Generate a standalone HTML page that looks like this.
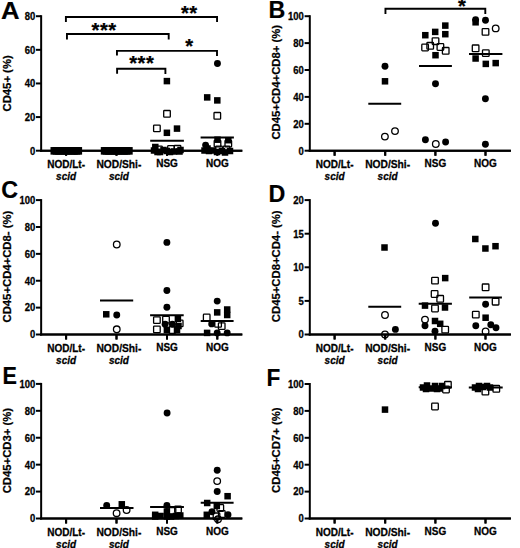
<!DOCTYPE html>
<html><head><meta charset="utf-8"><style>
html,body{margin:0;padding:0;background:#fff;}
svg{display:block;font-family:"Liberation Sans",sans-serif;}
</style></head><body>
<svg width="520" height="548" viewBox="0 0 520 548">
<rect width="520" height="548" fill="#fff"/>
<text transform="translate(1.0,19.4) scale(1.07,1)" font-size="24" text-anchor="start" font-weight="bold" font-style="normal" stroke="#000" stroke-width="0.2">A</text>
<line x1="41.15" y1="15.2" x2="41.15" y2="151.7" stroke="#000" stroke-width="2.0"/>
<line x1="35.949999999999996" y1="150.7" x2="41.15" y2="150.7" stroke="#000" stroke-width="2.0"/>
<text transform="translate(35.25,154.55) scale(0.95,1)" font-size="10.0" text-anchor="end" font-weight="bold" font-style="normal" stroke="#000" stroke-width="0.28">0</text>
<line x1="35.949999999999996" y1="117.07499999999999" x2="41.15" y2="117.07499999999999" stroke="#000" stroke-width="2.0"/>
<text transform="translate(35.25,120.92) scale(0.95,1)" font-size="10.0" text-anchor="end" font-weight="bold" font-style="normal" stroke="#000" stroke-width="0.28">20</text>
<line x1="35.949999999999996" y1="83.44999999999999" x2="41.15" y2="83.44999999999999" stroke="#000" stroke-width="2.0"/>
<text transform="translate(35.25,87.3) scale(0.95,1)" font-size="10.0" text-anchor="end" font-weight="bold" font-style="normal" stroke="#000" stroke-width="0.28">40</text>
<line x1="35.949999999999996" y1="49.82499999999999" x2="41.15" y2="49.82499999999999" stroke="#000" stroke-width="2.0"/>
<text transform="translate(35.25,53.67) scale(0.95,1)" font-size="10.0" text-anchor="end" font-weight="bold" font-style="normal" stroke="#000" stroke-width="0.28">60</text>
<line x1="35.949999999999996" y1="16.19999999999999" x2="41.15" y2="16.19999999999999" stroke="#000" stroke-width="2.0"/>
<text transform="translate(35.25,20.05) scale(0.95,1)" font-size="10.0" text-anchor="end" font-weight="bold" font-style="normal" stroke="#000" stroke-width="0.28">80</text>
<line x1="40.15" y1="150.7" x2="242.3" y2="150.7" stroke="#000" stroke-width="2.0"/>
<line x1="66.1" y1="150.7" x2="66.1" y2="155.7" stroke="#000" stroke-width="2.0"/>
<line x1="116.5" y1="150.7" x2="116.5" y2="155.7" stroke="#000" stroke-width="2.0"/>
<line x1="167.0" y1="150.7" x2="167.0" y2="155.7" stroke="#000" stroke-width="2.0"/>
<line x1="217.3" y1="150.7" x2="217.3" y2="155.7" stroke="#000" stroke-width="2.0"/>
<text x="66.1" y="168.0" font-size="10" text-anchor="middle" font-weight="bold" font-style="normal" stroke="#000" stroke-width="0.26">NOD/Lt-</text>
<text x="66.1" y="180.0" font-size="10" text-anchor="middle" font-weight="bold" font-style="italic" stroke="#000" stroke-width="0.26">scid</text>
<text transform="translate(118.9,168.0) scale(1.025,1)" font-size="10" text-anchor="middle" font-weight="bold" stroke="#000" stroke-width="0.26">NOD/Shi-</text>
<text x="118.9" y="180.0" font-size="10" text-anchor="middle" font-weight="bold" font-style="italic" stroke="#000" stroke-width="0.26">scid</text>
<text x="167.0" y="166.8" font-size="10" text-anchor="middle" font-weight="bold" font-style="normal" stroke="#000" stroke-width="0.26">NSG</text>
<text x="217.3" y="166.8" font-size="10" text-anchor="middle" font-weight="bold" font-style="normal" stroke="#000" stroke-width="0.26">NOG</text>
<text x="0" y="0" font-size="11.3" font-weight="bold" text-anchor="middle" stroke="#000" stroke-width="0.25" transform="translate(11.3,83.4) rotate(-90)">CD45+ (%)</text>
<polyline points="65.9,22.1 65.9,17.0 217.05,17.0 217.05,22.1" fill="none" stroke="#000" stroke-width="1.9" stroke-linejoin="miter" stroke-linecap="butt"/>
<polyline points="66.95,39.4 66.95,33.95 168.7,33.95 168.7,39.4" fill="none" stroke="#000" stroke-width="1.9" stroke-linejoin="miter" stroke-linecap="butt"/>
<polyline points="116.95,55.6 116.95,50.85 217.0,50.85 217.0,55.9" fill="none" stroke="#000" stroke-width="1.9" stroke-linejoin="miter" stroke-linecap="butt"/>
<polyline points="117.1,73.8 117.1,68.8 165.4,68.8 165.4,74.0" fill="none" stroke="#000" stroke-width="1.9" stroke-linejoin="miter" stroke-linecap="butt"/>
<text x="104.15" y="37.1" font-size="20.2" text-anchor="middle" font-weight="bold" letter-spacing="0.5" stroke="#000" stroke-width="0.25">***</text>
<text x="189.25" y="20.2" font-size="20.2" text-anchor="middle" font-weight="bold" letter-spacing="0.5" stroke="#000" stroke-width="0.25">**</text>
<text x="141.75" y="70.3" font-size="20.2" text-anchor="middle" font-weight="bold" letter-spacing="0.5" stroke="#000" stroke-width="0.25">***</text>
<text x="189.35" y="52.800000000000004" font-size="20.2" text-anchor="middle" font-weight="bold" letter-spacing="0.5" stroke="#000" stroke-width="0.25">*</text>
<circle cx="217.45" cy="63.5" r="3.45" fill="#000"/>
<rect x="163.65" y="77.85" width="6.5" height="6.5" fill="#000"/>
<rect x="203.95" y="94.15" width="6.5" height="6.5" fill="#000"/>
<rect x="214.05" y="97.15" width="6.5" height="6.5" fill="#000"/>
<rect x="163.70" y="110.50" width="6.6" height="6.6" rx="0.7" fill="none" stroke="#000" stroke-width="1.3"/>
<rect x="214.00" y="112.50" width="6.6" height="6.6" rx="0.7" fill="none" stroke="#000" stroke-width="1.3"/>
<rect x="153.60" y="125.10" width="6.6" height="6.6" rx="0.7" fill="none" stroke="#000" stroke-width="1.3"/>
<rect x="163.65" y="129.55" width="6.5" height="6.5" fill="#000"/>
<rect x="173.75" y="125.35" width="6.5" height="6.5" fill="#000"/>
<rect x="50.50" y="147.05" width="7.6" height="7.6" fill="#000"/>
<rect x="52.70" y="147.05" width="7.6" height="7.6" fill="#000"/>
<rect x="55.20" y="147.05" width="7.6" height="7.6" fill="#000"/>
<rect x="57.70" y="147.05" width="7.6" height="7.6" fill="#000"/>
<rect x="60.20" y="147.05" width="7.6" height="7.6" fill="#000"/>
<rect x="62.70" y="147.05" width="7.6" height="7.6" fill="#000"/>
<rect x="65.20" y="147.05" width="7.6" height="7.6" fill="#000"/>
<rect x="67.70" y="147.05" width="7.6" height="7.6" fill="#000"/>
<rect x="70.20" y="147.05" width="7.6" height="7.6" fill="#000"/>
<rect x="72.70" y="147.05" width="7.6" height="7.6" fill="#000"/>
<rect x="74.50" y="147.05" width="7.6" height="7.6" fill="#000"/>
<rect x="100.80" y="147.05" width="7.6" height="7.6" fill="#000"/>
<rect x="102.70" y="147.05" width="7.6" height="7.6" fill="#000"/>
<rect x="105.20" y="147.05" width="7.6" height="7.6" fill="#000"/>
<rect x="107.70" y="147.05" width="7.6" height="7.6" fill="#000"/>
<rect x="110.20" y="147.05" width="7.6" height="7.6" fill="#000"/>
<rect x="112.70" y="147.05" width="7.6" height="7.6" fill="#000"/>
<rect x="115.20" y="147.05" width="7.6" height="7.6" fill="#000"/>
<rect x="117.70" y="147.05" width="7.6" height="7.6" fill="#000"/>
<rect x="120.20" y="147.05" width="7.6" height="7.6" fill="#000"/>
<rect x="122.70" y="147.05" width="7.6" height="7.6" fill="#000"/>
<rect x="125.10" y="147.05" width="7.6" height="7.6" fill="#000"/>
<rect x="155.70" y="146.20" width="6.6" height="6.6" rx="0.7" fill="none" stroke="#000" stroke-width="1.3"/>
<rect x="167.70" y="145.70" width="6.6" height="6.6" rx="0.7" fill="none" stroke="#000" stroke-width="1.3"/>
<rect x="174.20" y="145.50" width="6.6" height="6.6" rx="0.7" fill="none" stroke="#000" stroke-width="1.3"/>
<rect x="150.75" y="147.25" width="6.5" height="6.5" fill="#000"/>
<rect x="152.05" y="143.75" width="6.5" height="6.5" fill="#000"/>
<rect x="156.75" y="148.75" width="6.5" height="6.5" fill="#000"/>
<rect x="160.25" y="146.75" width="6.5" height="6.5" fill="#000"/>
<rect x="163.55" y="147.75" width="6.5" height="6.5" fill="#000"/>
<rect x="166.75" y="148.75" width="6.5" height="6.5" fill="#000"/>
<rect x="170.75" y="148.25" width="6.5" height="6.5" fill="#000"/>
<rect x="176.25" y="148.25" width="6.5" height="6.5" fill="#000"/>
<rect x="177.25" y="146.75" width="6.5" height="6.5" fill="#000"/>
<rect x="154.25" y="148.75" width="6.5" height="6.5" fill="#000"/>
<rect x="214.20" y="140.30" width="6.6" height="6.6" rx="0.7" fill="none" stroke="#000" stroke-width="1.3"/>
<rect x="225.00" y="140.30" width="6.6" height="6.6" rx="0.7" fill="none" stroke="#000" stroke-width="1.3"/>
<rect x="214.25" y="136.45" width="6.5" height="6.5" fill="#000"/>
<rect x="225.05" y="136.95" width="6.5" height="6.5" fill="#000"/>
<circle cx="205.6" cy="145.1" r="3.45" fill="#000"/>
<rect x="201.25" y="147.25" width="6.5" height="6.5" fill="#000"/>
<rect x="205.75" y="147.75" width="6.5" height="6.5" fill="#000"/>
<rect x="209.75" y="147.25" width="6.5" height="6.5" fill="#000"/>
<rect x="215.70" y="146.20" width="6.6" height="6.6" rx="0.7" fill="none" stroke="#000" stroke-width="1.3"/>
<rect x="213.75" y="148.75" width="6.5" height="6.5" fill="#000"/>
<rect x="218.75" y="147.75" width="6.5" height="6.5" fill="#000"/>
<rect x="223.20" y="146.20" width="6.6" height="6.6" rx="0.7" fill="none" stroke="#000" stroke-width="1.3"/>
<rect x="226.75" y="147.75" width="6.5" height="6.5" fill="#000"/>
<rect x="204.25" y="145.25" width="6.5" height="6.5" fill="#000"/>
<rect x="221.75" y="149.25" width="6.5" height="6.5" fill="#000"/>
<line x1="150.2" y1="140.65" x2="183.9" y2="140.65" stroke="#000" stroke-width="2.0"/>
<line x1="200.6" y1="137.6" x2="233.9" y2="137.6" stroke="#000" stroke-width="2.0"/>
<text transform="translate(268.5,18.2) scale(0.97,1)" font-size="24" text-anchor="start" font-weight="bold" font-style="normal" stroke="#000" stroke-width="0.2">B</text>
<line x1="309.8" y1="15.2" x2="309.8" y2="151.7" stroke="#000" stroke-width="2.0"/>
<line x1="304.6" y1="150.7" x2="309.8" y2="150.7" stroke="#000" stroke-width="2.0"/>
<text transform="translate(303.90000000000003,154.55) scale(0.95,1)" font-size="10.0" text-anchor="end" font-weight="bold" font-style="normal" stroke="#000" stroke-width="0.28">0</text>
<line x1="304.6" y1="123.79999999999998" x2="309.8" y2="123.79999999999998" stroke="#000" stroke-width="2.0"/>
<text transform="translate(303.90000000000003,127.65) scale(0.95,1)" font-size="10.0" text-anchor="end" font-weight="bold" font-style="normal" stroke="#000" stroke-width="0.28">20</text>
<line x1="304.6" y1="96.89999999999999" x2="309.8" y2="96.89999999999999" stroke="#000" stroke-width="2.0"/>
<text transform="translate(303.90000000000003,100.75) scale(0.95,1)" font-size="10.0" text-anchor="end" font-weight="bold" font-style="normal" stroke="#000" stroke-width="0.28">40</text>
<line x1="304.6" y1="69.99999999999999" x2="309.8" y2="69.99999999999999" stroke="#000" stroke-width="2.0"/>
<text transform="translate(303.90000000000003,73.85) scale(0.95,1)" font-size="10.0" text-anchor="end" font-weight="bold" font-style="normal" stroke="#000" stroke-width="0.28">60</text>
<line x1="304.6" y1="43.099999999999994" x2="309.8" y2="43.099999999999994" stroke="#000" stroke-width="2.0"/>
<text transform="translate(303.90000000000003,46.95) scale(0.95,1)" font-size="10.0" text-anchor="end" font-weight="bold" font-style="normal" stroke="#000" stroke-width="0.28">80</text>
<line x1="304.6" y1="16.19999999999999" x2="309.8" y2="16.19999999999999" stroke="#000" stroke-width="2.0"/>
<text transform="translate(303.90000000000003,20.05) scale(0.95,1)" font-size="10.0" text-anchor="end" font-weight="bold" font-style="normal" stroke="#000" stroke-width="0.28">100</text>
<line x1="308.8" y1="150.7" x2="510.9" y2="150.7" stroke="#000" stroke-width="2.0"/>
<line x1="334.6" y1="150.7" x2="334.6" y2="155.7" stroke="#000" stroke-width="2.0"/>
<line x1="385.2" y1="150.7" x2="385.2" y2="155.7" stroke="#000" stroke-width="2.0"/>
<line x1="435.4" y1="150.7" x2="435.4" y2="155.7" stroke="#000" stroke-width="2.0"/>
<line x1="485.5" y1="150.7" x2="485.5" y2="155.7" stroke="#000" stroke-width="2.0"/>
<text x="334.6" y="168.0" font-size="10" text-anchor="middle" font-weight="bold" font-style="normal" stroke="#000" stroke-width="0.26">NOD/Lt-</text>
<text x="334.6" y="180.0" font-size="10" text-anchor="middle" font-weight="bold" font-style="italic" stroke="#000" stroke-width="0.26">scid</text>
<text transform="translate(387.59999999999997,168.0) scale(1.025,1)" font-size="10" text-anchor="middle" font-weight="bold" stroke="#000" stroke-width="0.26">NOD/Shi-</text>
<text x="387.59999999999997" y="180.0" font-size="10" text-anchor="middle" font-weight="bold" font-style="italic" stroke="#000" stroke-width="0.26">scid</text>
<text x="435.4" y="166.8" font-size="10" text-anchor="middle" font-weight="bold" font-style="normal" stroke="#000" stroke-width="0.26">NSG</text>
<text x="485.5" y="166.8" font-size="10" text-anchor="middle" font-weight="bold" font-style="normal" stroke="#000" stroke-width="0.26">NOG</text>
<text x="0" y="0" font-size="11.3" font-weight="bold" text-anchor="middle" stroke="#000" stroke-width="0.25" transform="translate(279.5,82.25) rotate(-90)">CD45+CD4+CD8+ (%)</text>
<polyline points="385.45,13.9 385.45,8.8 485.3,8.8 485.3,13.9" fill="none" stroke="#000" stroke-width="1.9" stroke-linejoin="miter" stroke-linecap="butt"/>
<text x="462.25" y="13.399999999999999" font-size="20.2" text-anchor="middle" font-weight="bold" letter-spacing="0.5" stroke="#000" stroke-width="0.25">*</text>
<circle cx="385" cy="66.3" r="3.45" fill="#000"/>
<rect x="381.75" y="78.05" width="6.5" height="6.5" fill="#000"/>
<circle cx="384.9" cy="136.6" r="3.3" fill="none" stroke="#000" stroke-width="1.3"/>
<circle cx="395" cy="131.1" r="3.3" fill="none" stroke="#000" stroke-width="1.3"/>
<rect x="442.05" y="22.35" width="6.5" height="6.5" fill="#000"/>
<rect x="442.05" y="30.95" width="6.5" height="6.5" fill="#000"/>
<rect x="431.95" y="28.65" width="6.5" height="6.5" fill="#000"/>
<rect x="422.05" y="31.95" width="6.5" height="6.5" fill="#000"/>
<rect x="432.20" y="37.90" width="6.6" height="6.6" rx="0.7" fill="none" stroke="#000" stroke-width="1.3"/>
<rect x="421.80" y="44.20" width="6.6" height="6.6" rx="0.7" fill="none" stroke="#000" stroke-width="1.3"/>
<rect x="426.90" y="42.50" width="6.6" height="6.6" rx="0.7" fill="none" stroke="#000" stroke-width="1.3"/>
<rect x="437.10" y="43.70" width="6.6" height="6.6" rx="0.7" fill="none" stroke="#000" stroke-width="1.3"/>
<rect x="442.40" y="47.50" width="6.6" height="6.6" rx="0.7" fill="none" stroke="#000" stroke-width="1.3"/>
<rect x="432.25" y="51.95" width="6.5" height="6.5" fill="#000"/>
<circle cx="435.5" cy="83.8" r="3.45" fill="#000"/>
<circle cx="425.4" cy="139.7" r="3.45" fill="#000"/>
<circle cx="435.8" cy="144" r="3.3" fill="none" stroke="#000" stroke-width="1.3"/>
<circle cx="445.6" cy="142" r="3.45" fill="#000"/>
<rect x="472.35" y="19.05" width="6.5" height="6.5" fill="#000"/>
<circle cx="475.6" cy="19.6" r="3.45" fill="#000"/>
<circle cx="485.5" cy="20.2" r="3.45" fill="#000"/>
<circle cx="495.7" cy="28.4" r="3.3" fill="none" stroke="#000" stroke-width="1.3"/>
<rect x="482.20" y="28.60" width="6.6" height="6.6" rx="0.7" fill="none" stroke="#000" stroke-width="1.3"/>
<rect x="472.30" y="45.00" width="6.6" height="6.6" rx="0.7" fill="none" stroke="#000" stroke-width="1.3"/>
<rect x="482.50" y="49.80" width="6.6" height="6.6" rx="0.7" fill="none" stroke="#000" stroke-width="1.3"/>
<rect x="472.35" y="55.25" width="6.5" height="6.5" fill="#000"/>
<rect x="482.55" y="60.65" width="6.5" height="6.5" fill="#000"/>
<rect x="492.45" y="59.85" width="6.5" height="6.5" fill="#000"/>
<circle cx="485.4" cy="98.7" r="3.45" fill="#000"/>
<circle cx="485.4" cy="144.3" r="3.45" fill="#000"/>
<line x1="368.3" y1="103.7" x2="401.2" y2="103.7" stroke="#000" stroke-width="2.0"/>
<line x1="419" y1="65.9" x2="451.9" y2="65.9" stroke="#000" stroke-width="2.0"/>
<line x1="469" y1="54.1" x2="502.4" y2="54.1" stroke="#000" stroke-width="2.0"/>
<text transform="translate(1.2,198) scale(0.97,1)" font-size="24" text-anchor="start" font-weight="bold" font-style="normal" stroke="#000" stroke-width="0.2">C</text>
<line x1="41.15" y1="199.1" x2="41.15" y2="335.5" stroke="#000" stroke-width="2.0"/>
<line x1="35.949999999999996" y1="334.5" x2="41.15" y2="334.5" stroke="#000" stroke-width="2.0"/>
<text transform="translate(35.25,338.35) scale(0.95,1)" font-size="10.0" text-anchor="end" font-weight="bold" font-style="normal" stroke="#000" stroke-width="0.28">0</text>
<line x1="35.949999999999996" y1="307.62" x2="41.15" y2="307.62" stroke="#000" stroke-width="2.0"/>
<text transform="translate(35.25,311.47) scale(0.95,1)" font-size="10.0" text-anchor="end" font-weight="bold" font-style="normal" stroke="#000" stroke-width="0.28">20</text>
<line x1="35.949999999999996" y1="280.74" x2="41.15" y2="280.74" stroke="#000" stroke-width="2.0"/>
<text transform="translate(35.25,284.59) scale(0.95,1)" font-size="10.0" text-anchor="end" font-weight="bold" font-style="normal" stroke="#000" stroke-width="0.28">40</text>
<line x1="35.949999999999996" y1="253.86" x2="41.15" y2="253.86" stroke="#000" stroke-width="2.0"/>
<text transform="translate(35.25,257.71) scale(0.95,1)" font-size="10.0" text-anchor="end" font-weight="bold" font-style="normal" stroke="#000" stroke-width="0.28">60</text>
<line x1="35.949999999999996" y1="226.98000000000002" x2="41.15" y2="226.98000000000002" stroke="#000" stroke-width="2.0"/>
<text transform="translate(35.25,230.83) scale(0.95,1)" font-size="10.0" text-anchor="end" font-weight="bold" font-style="normal" stroke="#000" stroke-width="0.28">80</text>
<line x1="35.949999999999996" y1="200.1" x2="41.15" y2="200.1" stroke="#000" stroke-width="2.0"/>
<text transform="translate(35.25,203.95) scale(0.95,1)" font-size="10.0" text-anchor="end" font-weight="bold" font-style="normal" stroke="#000" stroke-width="0.28">100</text>
<line x1="40.15" y1="334.5" x2="242.3" y2="334.5" stroke="#000" stroke-width="2.0"/>
<line x1="66.1" y1="334.5" x2="66.1" y2="339.5" stroke="#000" stroke-width="2.0"/>
<line x1="116.5" y1="334.5" x2="116.5" y2="339.5" stroke="#000" stroke-width="2.0"/>
<line x1="167.0" y1="334.5" x2="167.0" y2="339.5" stroke="#000" stroke-width="2.0"/>
<line x1="217.3" y1="334.5" x2="217.3" y2="339.5" stroke="#000" stroke-width="2.0"/>
<text x="66.1" y="352.0" font-size="10" text-anchor="middle" font-weight="bold" font-style="normal" stroke="#000" stroke-width="0.26">NOD/Lt-</text>
<text x="66.1" y="364.0" font-size="10" text-anchor="middle" font-weight="bold" font-style="italic" stroke="#000" stroke-width="0.26">scid</text>
<text transform="translate(118.9,352.0) scale(1.025,1)" font-size="10" text-anchor="middle" font-weight="bold" stroke="#000" stroke-width="0.26">NOD/Shi-</text>
<text x="118.9" y="364.0" font-size="10" text-anchor="middle" font-weight="bold" font-style="italic" stroke="#000" stroke-width="0.26">scid</text>
<text x="167.0" y="350.8" font-size="10" text-anchor="middle" font-weight="bold" font-style="normal" stroke="#000" stroke-width="0.26">NSG</text>
<text x="217.3" y="350.8" font-size="10" text-anchor="middle" font-weight="bold" font-style="normal" stroke="#000" stroke-width="0.26">NOG</text>
<text x="0" y="0" font-size="11.3" font-weight="bold" text-anchor="middle" stroke="#000" stroke-width="0.25" transform="translate(11.3,266.6) rotate(-90)">CD45+CD4+CD8- (%)</text>
<circle cx="116.75" cy="244.5" r="3.3" fill="none" stroke="#000" stroke-width="1.3"/>
<rect x="103.00" y="311.05" width="6.5" height="6.5" fill="#000"/>
<circle cx="116.75" cy="315" r="3.45" fill="#000"/>
<circle cx="116.75" cy="329.3" r="3.3" fill="none" stroke="#000" stroke-width="1.3"/>
<circle cx="166.9" cy="242.4" r="3.45" fill="#000"/>
<circle cx="166.9" cy="290.5" r="3.45" fill="#000"/>
<circle cx="166.9" cy="307.3" r="3.45" fill="#000"/>
<rect x="153.60" y="316.80" width="6.6" height="6.6" rx="0.7" fill="none" stroke="#000" stroke-width="1.3"/>
<rect x="153.60" y="326.10" width="6.6" height="6.6" rx="0.7" fill="none" stroke="#000" stroke-width="1.3"/>
<rect x="162.70" y="316.40" width="6.6" height="6.6" rx="0.7" fill="none" stroke="#000" stroke-width="1.3"/>
<rect x="174.65" y="315.55" width="6.5" height="6.5" fill="#000"/>
<rect x="176.40" y="320.10" width="6.6" height="6.6" rx="0.7" fill="none" stroke="#000" stroke-width="1.3"/>
<circle cx="165.1" cy="324.3" r="3.45" fill="#000"/>
<circle cx="172.4" cy="324.3" r="3.45" fill="#000"/>
<rect x="163.65" y="326.75" width="6.5" height="6.5" fill="#000"/>
<rect x="173.75" y="326.75" width="6.5" height="6.5" fill="#000"/>
<rect x="169.10" y="326.70" width="6.6" height="6.6" rx="0.7" fill="none" stroke="#000" stroke-width="1.3"/>
<rect x="175.25" y="322.75" width="6.5" height="6.5" fill="#000"/>
<circle cx="217.2" cy="301.1" r="3.45" fill="#000"/>
<rect x="213.95" y="309.15" width="6.5" height="6.5" fill="#000"/>
<rect x="223.95" y="306.25" width="6.5" height="6.5" fill="#000"/>
<rect x="223.95" y="311.75" width="6.5" height="6.5" fill="#000"/>
<rect x="203.40" y="314.20" width="6.6" height="6.6" rx="0.7" fill="none" stroke="#000" stroke-width="1.3"/>
<circle cx="211.7" cy="323.9" r="3.45" fill="#000"/>
<rect x="214.80" y="320.60" width="6.6" height="6.6" rx="0.7" fill="none" stroke="#000" stroke-width="1.3"/>
<rect x="218.40" y="322.80" width="6.6" height="6.6" rx="0.7" fill="none" stroke="#000" stroke-width="1.3"/>
<rect x="203.85" y="329.65" width="6.5" height="6.5" fill="#000"/>
<circle cx="217.2" cy="332.9" r="3.45" fill="#000"/>
<circle cx="227.2" cy="332.9" r="3.45" fill="#000"/>
<line x1="100" y1="300.4" x2="133.2" y2="300.4" stroke="#000" stroke-width="2.0"/>
<line x1="150.1" y1="315.2" x2="183.7" y2="315.2" stroke="#000" stroke-width="2.0"/>
<line x1="200.7" y1="321" x2="233.6" y2="321" stroke="#000" stroke-width="2.0"/>
<text transform="translate(268.5,202) scale(0.97,1)" font-size="24" text-anchor="start" font-weight="bold" font-style="normal" stroke="#000" stroke-width="0.2">D</text>
<line x1="309.8" y1="199.1" x2="309.8" y2="335.5" stroke="#000" stroke-width="2.0"/>
<line x1="304.6" y1="334.5" x2="309.8" y2="334.5" stroke="#000" stroke-width="2.0"/>
<text transform="translate(303.90000000000003,338.35) scale(0.95,1)" font-size="10.0" text-anchor="end" font-weight="bold" font-style="normal" stroke="#000" stroke-width="0.28">0</text>
<line x1="304.6" y1="300.9" x2="309.8" y2="300.9" stroke="#000" stroke-width="2.0"/>
<text transform="translate(303.90000000000003,304.75) scale(0.95,1)" font-size="10.0" text-anchor="end" font-weight="bold" font-style="normal" stroke="#000" stroke-width="0.28">5</text>
<line x1="304.6" y1="267.3" x2="309.8" y2="267.3" stroke="#000" stroke-width="2.0"/>
<text transform="translate(303.90000000000003,271.15) scale(0.95,1)" font-size="10.0" text-anchor="end" font-weight="bold" font-style="normal" stroke="#000" stroke-width="0.28">10</text>
<line x1="304.6" y1="233.7" x2="309.8" y2="233.7" stroke="#000" stroke-width="2.0"/>
<text transform="translate(303.90000000000003,237.55) scale(0.95,1)" font-size="10.0" text-anchor="end" font-weight="bold" font-style="normal" stroke="#000" stroke-width="0.28">15</text>
<line x1="304.6" y1="200.1" x2="309.8" y2="200.1" stroke="#000" stroke-width="2.0"/>
<text transform="translate(303.90000000000003,203.95) scale(0.95,1)" font-size="10.0" text-anchor="end" font-weight="bold" font-style="normal" stroke="#000" stroke-width="0.28">20</text>
<line x1="308.8" y1="334.5" x2="510.9" y2="334.5" stroke="#000" stroke-width="2.0"/>
<line x1="334.6" y1="334.5" x2="334.6" y2="339.5" stroke="#000" stroke-width="2.0"/>
<line x1="385.2" y1="334.5" x2="385.2" y2="339.5" stroke="#000" stroke-width="2.0"/>
<line x1="435.4" y1="334.5" x2="435.4" y2="339.5" stroke="#000" stroke-width="2.0"/>
<line x1="485.5" y1="334.5" x2="485.5" y2="339.5" stroke="#000" stroke-width="2.0"/>
<text x="334.6" y="352.0" font-size="10" text-anchor="middle" font-weight="bold" font-style="normal" stroke="#000" stroke-width="0.26">NOD/Lt-</text>
<text x="334.6" y="364.0" font-size="10" text-anchor="middle" font-weight="bold" font-style="italic" stroke="#000" stroke-width="0.26">scid</text>
<text transform="translate(387.59999999999997,352.0) scale(1.025,1)" font-size="10" text-anchor="middle" font-weight="bold" stroke="#000" stroke-width="0.26">NOD/Shi-</text>
<text x="387.59999999999997" y="364.0" font-size="10" text-anchor="middle" font-weight="bold" font-style="italic" stroke="#000" stroke-width="0.26">scid</text>
<text x="435.4" y="350.8" font-size="10" text-anchor="middle" font-weight="bold" font-style="normal" stroke="#000" stroke-width="0.26">NSG</text>
<text x="485.5" y="350.8" font-size="10" text-anchor="middle" font-weight="bold" font-style="normal" stroke="#000" stroke-width="0.26">NOG</text>
<text x="0" y="0" font-size="11.3" font-weight="bold" text-anchor="middle" stroke="#000" stroke-width="0.25" transform="translate(279.5,266.25) rotate(-90)">CD45+CD8+CD4- (%)</text>
<rect x="381.25" y="244.25" width="6.5" height="6.5" fill="#000"/>
<circle cx="385" cy="315" r="3.3" fill="none" stroke="#000" stroke-width="1.3"/>
<circle cx="385" cy="334.5" r="3.3" fill="none" stroke="#000" stroke-width="1.3"/>
<circle cx="395.4" cy="329.4" r="3.45" fill="#000"/>
<circle cx="435.5" cy="223.2" r="3.45" fill="#000"/>
<rect x="431.70" y="277.30" width="6.6" height="6.6" rx="0.7" fill="none" stroke="#000" stroke-width="1.3"/>
<rect x="441.95" y="274.85" width="6.5" height="6.5" fill="#000"/>
<rect x="431.30" y="290.70" width="6.6" height="6.6" rx="0.7" fill="none" stroke="#000" stroke-width="1.3"/>
<rect x="436.90" y="295.50" width="6.6" height="6.6" rx="0.7" fill="none" stroke="#000" stroke-width="1.3"/>
<rect x="421.75" y="302.35" width="6.5" height="6.5" fill="#000"/>
<rect x="431.70" y="305.20" width="6.6" height="6.6" rx="0.7" fill="none" stroke="#000" stroke-width="1.3"/>
<rect x="441.75" y="304.25" width="6.5" height="6.5" fill="#000"/>
<circle cx="425" cy="319.6" r="3.3" fill="none" stroke="#000" stroke-width="1.3"/>
<circle cx="425" cy="325.8" r="3.45" fill="#000"/>
<rect x="431.75" y="317.75" width="6.5" height="6.5" fill="#000"/>
<rect x="436.95" y="320.55" width="6.5" height="6.5" fill="#000"/>
<rect x="441.90" y="326.30" width="6.6" height="6.6" rx="0.7" fill="none" stroke="#000" stroke-width="1.3"/>
<circle cx="435" cy="331.2" r="3.45" fill="#000"/>
<rect x="472.05" y="235.75" width="6.5" height="6.5" fill="#000"/>
<rect x="482.15" y="245.25" width="6.5" height="6.5" fill="#000"/>
<rect x="492.25" y="242.95" width="6.5" height="6.5" fill="#000"/>
<rect x="482.30" y="284.00" width="6.6" height="6.6" rx="0.7" fill="none" stroke="#000" stroke-width="1.3"/>
<rect x="492.30" y="298.40" width="6.6" height="6.6" rx="0.7" fill="none" stroke="#000" stroke-width="1.3"/>
<circle cx="485.6" cy="304.2" r="3.45" fill="#000"/>
<rect x="472.50" y="311.30" width="6.6" height="6.6" rx="0.7" fill="none" stroke="#000" stroke-width="1.3"/>
<rect x="482.35" y="314.45" width="6.5" height="6.5" fill="#000"/>
<circle cx="475.8" cy="325.8" r="3.45" fill="#000"/>
<circle cx="490.8" cy="324.8" r="3.45" fill="#000"/>
<circle cx="496" cy="327.7" r="3.45" fill="#000"/>
<circle cx="485.6" cy="331.5" r="3.3" fill="none" stroke="#000" stroke-width="1.3"/>
<line x1="368.3" y1="306.8" x2="401.2" y2="306.8" stroke="#000" stroke-width="2.0"/>
<line x1="418.7" y1="303.7" x2="451.9" y2="303.7" stroke="#000" stroke-width="2.0"/>
<line x1="469.2" y1="297.5" x2="501.9" y2="297.5" stroke="#000" stroke-width="2.0"/>
<text transform="translate(2.4,383.7) scale(0.9,1)" font-size="24" text-anchor="start" font-weight="bold" font-style="normal" stroke="#000" stroke-width="0.2">E</text>
<line x1="41.15" y1="382.9" x2="41.15" y2="519.5" stroke="#000" stroke-width="2.0"/>
<line x1="35.949999999999996" y1="518.5" x2="41.15" y2="518.5" stroke="#000" stroke-width="2.0"/>
<text transform="translate(35.25,522.35) scale(0.95,1)" font-size="10.0" text-anchor="end" font-weight="bold" font-style="normal" stroke="#000" stroke-width="0.28">0</text>
<line x1="35.949999999999996" y1="491.58" x2="41.15" y2="491.58" stroke="#000" stroke-width="2.0"/>
<text transform="translate(35.25,495.43) scale(0.95,1)" font-size="10.0" text-anchor="end" font-weight="bold" font-style="normal" stroke="#000" stroke-width="0.28">20</text>
<line x1="35.949999999999996" y1="464.65999999999997" x2="41.15" y2="464.65999999999997" stroke="#000" stroke-width="2.0"/>
<text transform="translate(35.25,468.51) scale(0.95,1)" font-size="10.0" text-anchor="end" font-weight="bold" font-style="normal" stroke="#000" stroke-width="0.28">40</text>
<line x1="35.949999999999996" y1="437.74" x2="41.15" y2="437.74" stroke="#000" stroke-width="2.0"/>
<text transform="translate(35.25,441.59) scale(0.95,1)" font-size="10.0" text-anchor="end" font-weight="bold" font-style="normal" stroke="#000" stroke-width="0.28">60</text>
<line x1="35.949999999999996" y1="410.82" x2="41.15" y2="410.82" stroke="#000" stroke-width="2.0"/>
<text transform="translate(35.25,414.67) scale(0.95,1)" font-size="10.0" text-anchor="end" font-weight="bold" font-style="normal" stroke="#000" stroke-width="0.28">80</text>
<line x1="35.949999999999996" y1="383.9" x2="41.15" y2="383.9" stroke="#000" stroke-width="2.0"/>
<text transform="translate(35.25,387.75) scale(0.95,1)" font-size="10.0" text-anchor="end" font-weight="bold" font-style="normal" stroke="#000" stroke-width="0.28">100</text>
<line x1="40.15" y1="518.5" x2="242.3" y2="518.5" stroke="#000" stroke-width="2.0"/>
<line x1="66.1" y1="518.5" x2="66.1" y2="523.5" stroke="#000" stroke-width="2.0"/>
<line x1="116.5" y1="518.5" x2="116.5" y2="523.5" stroke="#000" stroke-width="2.0"/>
<line x1="167.0" y1="518.5" x2="167.0" y2="523.5" stroke="#000" stroke-width="2.0"/>
<line x1="217.3" y1="518.5" x2="217.3" y2="523.5" stroke="#000" stroke-width="2.0"/>
<text x="66.1" y="536.0" font-size="10" text-anchor="middle" font-weight="bold" font-style="normal" stroke="#000" stroke-width="0.26">NOD/Lt-</text>
<text x="66.1" y="548.0" font-size="10" text-anchor="middle" font-weight="bold" font-style="italic" stroke="#000" stroke-width="0.26">scid</text>
<text transform="translate(118.9,536.0) scale(1.025,1)" font-size="10" text-anchor="middle" font-weight="bold" stroke="#000" stroke-width="0.26">NOD/Shi-</text>
<text x="118.9" y="548.0" font-size="10" text-anchor="middle" font-weight="bold" font-style="italic" stroke="#000" stroke-width="0.26">scid</text>
<text x="167.0" y="534.8" font-size="10" text-anchor="middle" font-weight="bold" font-style="normal" stroke="#000" stroke-width="0.26">NSG</text>
<text x="217.3" y="534.8" font-size="10" text-anchor="middle" font-weight="bold" font-style="normal" stroke="#000" stroke-width="0.26">NOG</text>
<text x="0" y="0" font-size="11.3" font-weight="bold" text-anchor="middle" stroke="#000" stroke-width="0.25" transform="translate(11.3,450.6) rotate(-90)">CD45+CD3+ (%)</text>
<circle cx="106.7" cy="505.5" r="3.45" fill="#000"/>
<circle cx="116.6" cy="513.2" r="3.3" fill="none" stroke="#000" stroke-width="1.3"/>
<rect x="118.55" y="501.05" width="6.5" height="6.5" fill="#000"/>
<circle cx="126.6" cy="510.0" r="3.3" fill="none" stroke="#000" stroke-width="1.3"/>
<circle cx="167.1" cy="413" r="3.45" fill="#000"/>
<rect x="174.70" y="506.20" width="6.6" height="6.6" rx="0.7" fill="none" stroke="#000" stroke-width="1.3"/>
<rect x="169.20" y="507.70" width="6.6" height="6.6" rx="0.7" fill="none" stroke="#000" stroke-width="1.3"/>
<circle cx="166.9" cy="505.5" r="3.45" fill="#000"/>
<rect x="151.95" y="511.55" width="6.5" height="6.5" fill="#000"/>
<rect x="151.95" y="513.25" width="6.5" height="6.5" fill="#000"/>
<rect x="157.25" y="512.75" width="6.5" height="6.5" fill="#000"/>
<rect x="163.65" y="508.25" width="6.5" height="6.5" fill="#000"/>
<rect x="163.65" y="513.25" width="6.5" height="6.5" fill="#000"/>
<rect x="167.75" y="513.25" width="6.5" height="6.5" fill="#000"/>
<rect x="172.75" y="512.75" width="6.5" height="6.5" fill="#000"/>
<rect x="177.05" y="512.25" width="6.5" height="6.5" fill="#000"/>
<circle cx="217.2" cy="470.2" r="3.45" fill="#000"/>
<circle cx="217.2" cy="481.1" r="3.3" fill="none" stroke="#000" stroke-width="1.3"/>
<circle cx="217.2" cy="491.5" r="3.45" fill="#000"/>
<rect x="224.35" y="492.95" width="6.5" height="6.5" fill="#000"/>
<rect x="203.95" y="499.75" width="6.5" height="6.5" fill="#000"/>
<rect x="217.00" y="504.70" width="6.6" height="6.6" rx="0.7" fill="none" stroke="#000" stroke-width="1.3"/>
<rect x="213.55" y="502.75" width="6.5" height="6.5" fill="#000"/>
<rect x="218.50" y="510.70" width="6.6" height="6.6" rx="0.7" fill="none" stroke="#000" stroke-width="1.3"/>
<circle cx="212" cy="511.8" r="3.45" fill="#000"/>
<circle cx="228" cy="514.8" r="3.45" fill="#000"/>
<rect x="203.55" y="511.55" width="6.5" height="6.5" fill="#000"/>
<rect x="213.20" y="513.00" width="6.6" height="6.6" rx="0.7" fill="none" stroke="#000" stroke-width="1.3"/>
<circle cx="218" cy="519.3" r="3.3" fill="none" stroke="#000" stroke-width="1.3"/>
<line x1="100" y1="508" x2="133.5" y2="508" stroke="#000" stroke-width="2.0"/>
<line x1="150.1" y1="507.1" x2="183.9" y2="507.1" stroke="#000" stroke-width="2.0"/>
<line x1="200.7" y1="502.7" x2="233.6" y2="502.7" stroke="#000" stroke-width="2.0"/>
<text transform="translate(266.5,386.1) scale(0.94,1)" font-size="24" text-anchor="start" font-weight="bold" font-style="normal" stroke="#000" stroke-width="0.2">F</text>
<line x1="309.8" y1="383.0" x2="309.8" y2="519.5" stroke="#000" stroke-width="2.0"/>
<line x1="304.6" y1="518.5" x2="309.8" y2="518.5" stroke="#000" stroke-width="2.0"/>
<text transform="translate(303.90000000000003,522.35) scale(0.95,1)" font-size="10.0" text-anchor="end" font-weight="bold" font-style="normal" stroke="#000" stroke-width="0.28">0</text>
<line x1="304.6" y1="491.6" x2="309.8" y2="491.6" stroke="#000" stroke-width="2.0"/>
<text transform="translate(303.90000000000003,495.45) scale(0.95,1)" font-size="10.0" text-anchor="end" font-weight="bold" font-style="normal" stroke="#000" stroke-width="0.28">20</text>
<line x1="304.6" y1="464.7" x2="309.8" y2="464.7" stroke="#000" stroke-width="2.0"/>
<text transform="translate(303.90000000000003,468.55) scale(0.95,1)" font-size="10.0" text-anchor="end" font-weight="bold" font-style="normal" stroke="#000" stroke-width="0.28">40</text>
<line x1="304.6" y1="437.8" x2="309.8" y2="437.8" stroke="#000" stroke-width="2.0"/>
<text transform="translate(303.90000000000003,441.65) scale(0.95,1)" font-size="10.0" text-anchor="end" font-weight="bold" font-style="normal" stroke="#000" stroke-width="0.28">60</text>
<line x1="304.6" y1="410.9" x2="309.8" y2="410.9" stroke="#000" stroke-width="2.0"/>
<text transform="translate(303.90000000000003,414.75) scale(0.95,1)" font-size="10.0" text-anchor="end" font-weight="bold" font-style="normal" stroke="#000" stroke-width="0.28">80</text>
<line x1="304.6" y1="384.0" x2="309.8" y2="384.0" stroke="#000" stroke-width="2.0"/>
<text transform="translate(303.90000000000003,387.85) scale(0.95,1)" font-size="10.0" text-anchor="end" font-weight="bold" font-style="normal" stroke="#000" stroke-width="0.28">100</text>
<line x1="308.8" y1="518.5" x2="510.9" y2="518.5" stroke="#000" stroke-width="2.0"/>
<line x1="334.6" y1="518.5" x2="334.6" y2="523.5" stroke="#000" stroke-width="2.0"/>
<line x1="385.2" y1="518.5" x2="385.2" y2="523.5" stroke="#000" stroke-width="2.0"/>
<line x1="435.4" y1="518.5" x2="435.4" y2="523.5" stroke="#000" stroke-width="2.0"/>
<line x1="485.5" y1="518.5" x2="485.5" y2="523.5" stroke="#000" stroke-width="2.0"/>
<text x="334.6" y="536.0" font-size="10" text-anchor="middle" font-weight="bold" font-style="normal" stroke="#000" stroke-width="0.26">NOD/Lt-</text>
<text x="334.6" y="548.0" font-size="10" text-anchor="middle" font-weight="bold" font-style="italic" stroke="#000" stroke-width="0.26">scid</text>
<text transform="translate(387.59999999999997,536.0) scale(1.025,1)" font-size="10" text-anchor="middle" font-weight="bold" stroke="#000" stroke-width="0.26">NOD/Shi-</text>
<text x="387.59999999999997" y="548.0" font-size="10" text-anchor="middle" font-weight="bold" font-style="italic" stroke="#000" stroke-width="0.26">scid</text>
<text x="435.4" y="534.8" font-size="10" text-anchor="middle" font-weight="bold" font-style="normal" stroke="#000" stroke-width="0.26">NSG</text>
<text x="485.5" y="534.8" font-size="10" text-anchor="middle" font-weight="bold" font-style="normal" stroke="#000" stroke-width="0.26">NOG</text>
<text x="0" y="0" font-size="11.3" font-weight="bold" text-anchor="middle" stroke="#000" stroke-width="0.25" transform="translate(279.5,450.2) rotate(-90)">CD45+CD7+ (%)</text>
<rect x="381.75" y="406.35" width="6.5" height="6.5" fill="#000"/>
<rect x="431.70" y="403.20" width="6.6" height="6.6" rx="0.7" fill="none" stroke="#000" stroke-width="1.3"/>
<rect x="444.60" y="381.50" width="6.6" height="6.6" rx="0.7" fill="none" stroke="#000" stroke-width="1.3"/>
<rect x="442.70" y="386.20" width="6.6" height="6.6" rx="0.7" fill="none" stroke="#000" stroke-width="1.3"/>
<rect x="419.75" y="384.25" width="6.5" height="6.5" fill="#000"/>
<rect x="423.75" y="382.25" width="6.5" height="6.5" fill="#000"/>
<rect x="427.75" y="385.25" width="6.5" height="6.5" fill="#000"/>
<rect x="431.75" y="382.75" width="6.5" height="6.5" fill="#000"/>
<rect x="435.75" y="385.25" width="6.5" height="6.5" fill="#000"/>
<rect x="438.75" y="382.75" width="6.5" height="6.5" fill="#000"/>
<rect x="422.75" y="385.75" width="6.5" height="6.5" fill="#000"/>
<rect x="433.75" y="385.75" width="6.5" height="6.5" fill="#000"/>
<rect x="482.10" y="388.30" width="6.6" height="6.6" rx="0.7" fill="none" stroke="#000" stroke-width="1.3"/>
<rect x="493.00" y="385.50" width="6.6" height="6.6" rx="0.7" fill="none" stroke="#000" stroke-width="1.3"/>
<rect x="471.75" y="384.25" width="6.5" height="6.5" fill="#000"/>
<rect x="475.75" y="382.75" width="6.5" height="6.5" fill="#000"/>
<rect x="479.75" y="383.75" width="6.5" height="6.5" fill="#000"/>
<rect x="483.75" y="382.75" width="6.5" height="6.5" fill="#000"/>
<rect x="486.75" y="384.25" width="6.5" height="6.5" fill="#000"/>
<rect x="474.75" y="385.75" width="6.5" height="6.5" fill="#000"/>
<line x1="418.7" y1="387.3" x2="451.9" y2="387.3" stroke="#000" stroke-width="2.0"/>
<line x1="468.8" y1="387.6" x2="502.7" y2="387.6" stroke="#000" stroke-width="2.0"/>
<line x1="40.15" y1="150.7" x2="242.3" y2="150.7" stroke="#000" stroke-width="2.0"/>
<line x1="66.1" y1="150.7" x2="66.1" y2="155.7" stroke="#000" stroke-width="2.0"/>
<line x1="116.5" y1="150.7" x2="116.5" y2="155.7" stroke="#000" stroke-width="2.0"/>
<line x1="167.0" y1="150.7" x2="167.0" y2="155.7" stroke="#000" stroke-width="2.0"/>
<line x1="217.3" y1="150.7" x2="217.3" y2="155.7" stroke="#000" stroke-width="2.0"/>
<line x1="308.8" y1="150.7" x2="510.9" y2="150.7" stroke="#000" stroke-width="2.0"/>
<line x1="334.6" y1="150.7" x2="334.6" y2="155.7" stroke="#000" stroke-width="2.0"/>
<line x1="385.2" y1="150.7" x2="385.2" y2="155.7" stroke="#000" stroke-width="2.0"/>
<line x1="435.4" y1="150.7" x2="435.4" y2="155.7" stroke="#000" stroke-width="2.0"/>
<line x1="485.5" y1="150.7" x2="485.5" y2="155.7" stroke="#000" stroke-width="2.0"/>
<line x1="40.15" y1="334.5" x2="242.3" y2="334.5" stroke="#000" stroke-width="2.0"/>
<line x1="66.1" y1="334.5" x2="66.1" y2="339.5" stroke="#000" stroke-width="2.0"/>
<line x1="116.5" y1="334.5" x2="116.5" y2="339.5" stroke="#000" stroke-width="2.0"/>
<line x1="167.0" y1="334.5" x2="167.0" y2="339.5" stroke="#000" stroke-width="2.0"/>
<line x1="217.3" y1="334.5" x2="217.3" y2="339.5" stroke="#000" stroke-width="2.0"/>
<line x1="308.8" y1="334.5" x2="510.9" y2="334.5" stroke="#000" stroke-width="2.0"/>
<line x1="334.6" y1="334.5" x2="334.6" y2="339.5" stroke="#000" stroke-width="2.0"/>
<line x1="385.2" y1="334.5" x2="385.2" y2="339.5" stroke="#000" stroke-width="2.0"/>
<line x1="435.4" y1="334.5" x2="435.4" y2="339.5" stroke="#000" stroke-width="2.0"/>
<line x1="485.5" y1="334.5" x2="485.5" y2="339.5" stroke="#000" stroke-width="2.0"/>
<line x1="40.15" y1="518.5" x2="242.3" y2="518.5" stroke="#000" stroke-width="2.0"/>
<line x1="66.1" y1="518.5" x2="66.1" y2="523.5" stroke="#000" stroke-width="2.0"/>
<line x1="116.5" y1="518.5" x2="116.5" y2="523.5" stroke="#000" stroke-width="2.0"/>
<line x1="167.0" y1="518.5" x2="167.0" y2="523.5" stroke="#000" stroke-width="2.0"/>
<line x1="217.3" y1="518.5" x2="217.3" y2="523.5" stroke="#000" stroke-width="2.0"/>
<line x1="308.8" y1="518.5" x2="510.9" y2="518.5" stroke="#000" stroke-width="2.0"/>
<line x1="334.6" y1="518.5" x2="334.6" y2="523.5" stroke="#000" stroke-width="2.0"/>
<line x1="385.2" y1="518.5" x2="385.2" y2="523.5" stroke="#000" stroke-width="2.0"/>
<line x1="435.4" y1="518.5" x2="435.4" y2="523.5" stroke="#000" stroke-width="2.0"/>
<line x1="485.5" y1="518.5" x2="485.5" y2="523.5" stroke="#000" stroke-width="2.0"/>
</svg>
</body></html>
